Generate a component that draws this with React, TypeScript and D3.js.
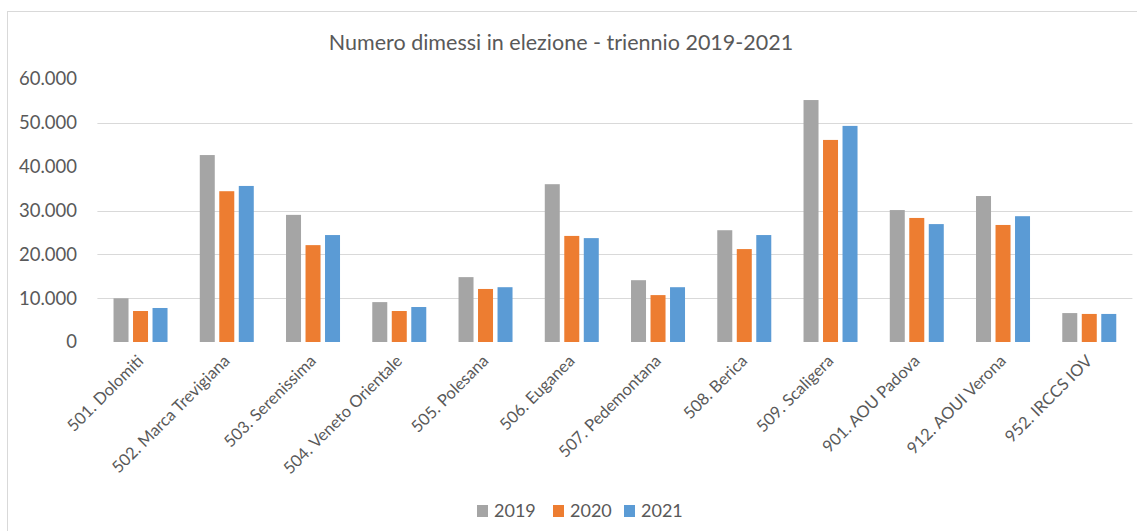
import React from "react";
import * as d3 from "d3";

const categories = [
  "501. Dolomiti",
  "502. Marca Trevigiana",
  "503. Serenissima",
  "504. Veneto Orientale",
  "505. Polesana",
  "506. Euganea",
  "507. Pedemontana",
  "508. Berica",
  "509. Scaligera",
  "901. AOU Padova",
  "912. AOUI Verona",
  "952. IRCCS IOV",
];
const years = ["2019", "2020", "2021"];
const values2019 = [9970, 42650, 29000, 9100, 14800, 36000, 14100, 25500, 55200, 30100, 33300, 6600];
const values2020 = [7070, 34400, 22100, 7070, 12100, 24200, 10700, 21200, 46100, 28300, 26700, 6400];
const values2021 = [7760, 35600, 24400, 7980, 12500, 23700, 12500, 24400, 49300, 26900, 28700, 6400];
const yTicks = [0, 10000, 20000, 30000, 40000, 50000, 60000];
const gridTicks = [10000, 20000, 30000, 50000];
const colors = ["#A5A5A5", "#ED7D31", "#5B9BD5"];
const title = "Numero dimessi in elezione - triennio 2019-2021";

const W = 1137;
const H = 531;
const FONT = "Lato, 'Open Sans', sans-serif";
const TEXT = "#595959";

export default function App() {
  const series = [values2019, values2020, values2021];
  const x0 = d3.scaleBand<string>().domain(categories).range([97.4, 1132.4]).paddingInner(0).paddingOuter(0);
  const groupW = 54;
  const x1 = d3.scaleBand<string>().domain(years).range([0, groupW]).paddingInner(0.2308).paddingOuter(0);
  const y = d3.scaleLinear().domain([0, 60000]).range([342, 79]);
  const loc = d3.formatLocale({ decimal: ",", thousands: ".", grouping: [3], currency: ["€", ""] });
  const fmt = loc.format(",");
  const off = (x0.bandwidth() - groupW) / 2;

  const legendX = [477, 553, 624];

  return (
    <svg width={W} height={H} style={{ position: "absolute", left: 0, top: 0, background: "#fff" }} fontFamily={FONT}>
      <rect x={0} y={0} width={W} height={H} fill="#fff" />
      <rect x={7.5} y={11.5} width={1140} height={530} fill="none" stroke="#D9D9D9" strokeWidth={1} />
      <text x={561} y={50} textAnchor="middle" fontSize={21.5} fill={TEXT}>{title}</text>
      {gridTicks.map((t) => (
        <line key={t} x1={97.4} x2={1132.4} y1={Math.round(y(t)) + 0.5} y2={Math.round(y(t)) + 0.5} stroke="#D9D9D9" strokeWidth={1} />
      ))}
      {yTicks.map((t) => (
        <text key={t} x={77} y={y(t)} dy="0.35em" textAnchor="end" fontSize={18.5} fill={TEXT}>{fmt(t)}</text>
      ))}
      {categories.map((c, i) => (
        <g key={c} transform={`translate(${x0(c)! + off},0)`}>
          {years.map((yr, j) => (
            <rect key={yr} x={x1(yr)} y={y(series[j][i])} width={x1.bandwidth()} height={y(0) - y(series[j][i])} fill={colors[j]} />
          ))}
        </g>
      ))}
      {categories.map((c) => (
        <text key={c} transform={`translate(${x0(c)! + x0.bandwidth() / 2 + 4},362) rotate(-45)`} textAnchor="end" fontSize={16.5} fill={TEXT}>{c}</text>
      ))}
      {years.map((yr, j) => (
        <g key={yr} transform={`translate(${legendX[j]},0)`}>
          <rect x={0} y={505} width={11} height={12} fill={colors[j]} />
          <text x={17} y={511} dy="0.36em" fontSize={18} fill={TEXT}>{yr}</text>
        </g>
      ))}
    </svg>
  );
}
